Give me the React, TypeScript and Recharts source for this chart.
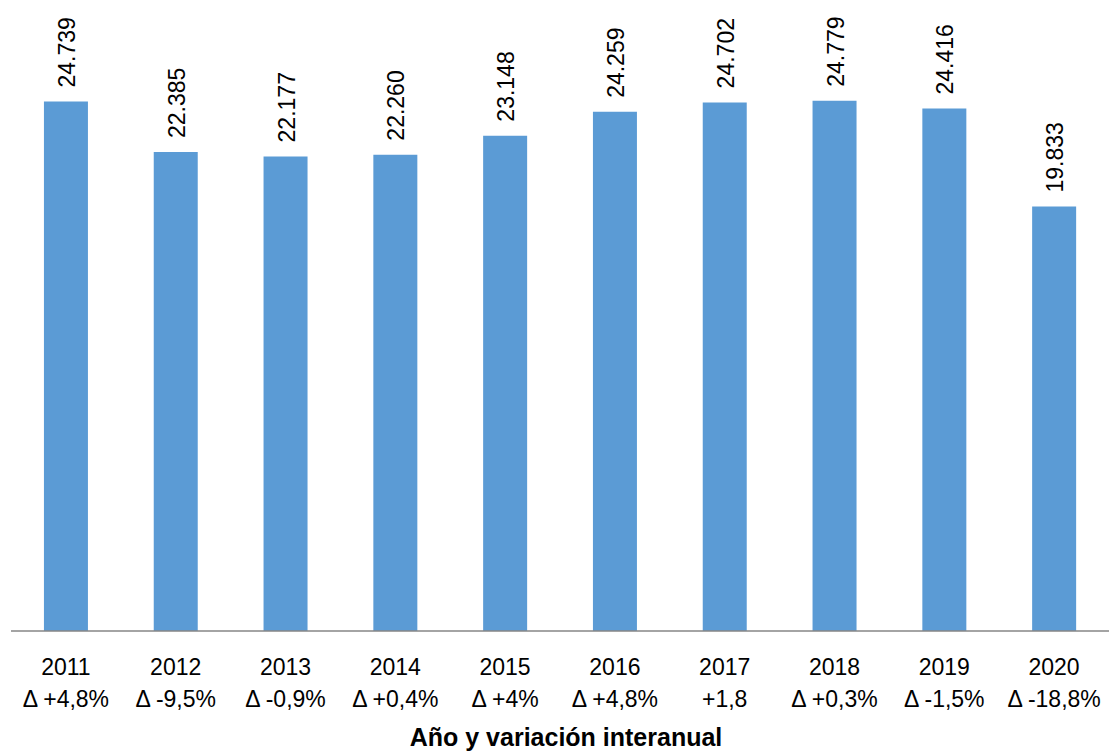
import React from 'react';
import { BarChart, Bar, XAxis, YAxis, LabelList, Label } from 'recharts';

const years = ['2011', '2012', '2013', '2014', '2015', '2016', '2017', '2018', '2019', '2020'];
const values = [24739, 22385, 22177, 22260, 23148, 24259, 24702, 24779, 24416, 19833];
const valueLabels = ['24.739', '22.385', '22.177', '22.260', '23.148', '24.259', '24.702', '24.779', '24.416', '19.833'];
const variations = ['Δ +4,8%', 'Δ -9,5%', 'Δ -0,9%', 'Δ +0,4%', 'Δ +4%', 'Δ +4,8%', '+1,8', 'Δ +0,3%', 'Δ -1,5%', 'Δ -18,8%'];

const data = years.map((year, i) => ({ year, value: values[i], label: valueLabels[i], variation: variations[i] }));

const FONT = '"Liberation Sans", Arial, sans-serif';

const YearTick = (props: any) => {
  const { x, y, payload, index } = props;
  return (
    <g>
      <text x={x} y={y + 44} textAnchor="middle" fontSize={23} fontFamily={FONT} fill="#000">
        {payload.value}
      </text>
      <text x={x} y={y + 76} textAnchor="middle" fontSize={23} fontFamily={FONT} fill="#000">
        {variations[index]}
      </text>
    </g>
  );
};

const ValueLabel = (props: any) => {
  const { x, y, width, index } = props;
  const cx = x + width / 2 + 1;
  const cy = y - 14;
  return (
    <text
      x={cx}
      y={cy}
      transform={`rotate(-90, ${cx}, ${cy})`}
      textAnchor="start"
      dominantBaseline="central"
      fontSize={23}
      fontFamily={FONT}
      fill="#000"
    >
      {valueLabels[index]}
    </text>
  );
};

// axis title drawn as plain svg text so the baseline is easy to place
const AxisTitle = (props: any) => {
  const { viewBox } = props;
  const cx = viewBox.x + viewBox.width / 2 + 6;
  return (
    <text x={cx} y={746} textAnchor="middle" fontSize={25} fontWeight="bold" fontFamily={FONT} fill="#000">
      Año y variación interanual
    </text>
  );
};

export default function App() {
  return (
    <div style={{ position: 'absolute', left: 0, top: 0, width: 1109, height: 753, background: '#fff' }}>
      <BarChart width={1109} height={753} data={data} margin={{ top: 96, right: 0, left: 11, bottom: 0 }} barCategoryGap="30%">
        <XAxis
          dataKey="year"
          height={122}
          tickLine={false}
          tickSize={0}
          tickMargin={0}
          axisLine={{ stroke: '#868686', strokeWidth: 1.5 }}
          tick={<YearTick />}
          interval={0}
        >
          <Label content={<AxisTitle />} />
        </XAxis>
        <YAxis hide domain={[0, 25000]} />
        <Bar dataKey="value" fill="#5B9BD5" isAnimationActive={false}>
          <LabelList dataKey="label" content={<ValueLabel />} />
        </Bar>
      </BarChart>
    </div>
  );
}
